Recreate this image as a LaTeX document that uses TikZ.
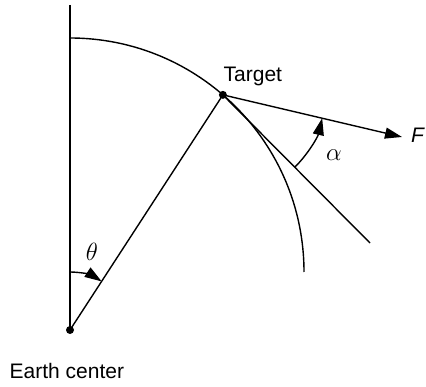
\documentclass[tikz,border=0pt]{standalone}
\usepackage{fontspec}
\setmainfont{Liberation Sans}
\usetikzlibrary{arrows.meta,calc}

\begin{document}
\begin{tikzpicture}[x=1pt,y=1pt,line width=1.4pt,
  font=\fontsize{21}{24}\selectfont,
  tip/.style={-{Triangle[length=17pt,width=11pt]}},
  lbl/.style={inner sep=0pt},
  sym/.style={inner sep=0pt,font=\fontsize{24}{28}\selectfont}]
\useasboundingbox (0,0) rectangle (426,386);

% ===== Earth axis and surface =====
\coordinate (top) at (70,381);
\coordinate (earth) at (70,56);
\coordinate (c) at (70,114);
\coordinate (pole) at (70,348);
\draw (top) -- (earth);
\draw (pole) arc[start angle=90,end angle=0,radius=234];
\fill (earth) circle (4);

% ===== Target, tangent and force =====
\coordinate (target) at ($(c)+(49.2:234)$);
\coordinate (tan) at (370,143);
\coordinate (ftip) at (402,249);
\draw (earth) -- (target);
\draw (target) -- (tan);
\draw[tip] (target) -- (ftip);
\fill (target) circle (4);

% Angles
\draw[tip] ($(earth)+(90:58)$) arc[start angle=90,end angle=56.9,radius=58];
\draw[tip] ($(target)+(-45.2:102)$) arc[start angle=-45.2,end angle=-13.2,radius=102];

% Labels
\node[sym] (theta) at (92,134) {$\theta$};
\node[sym] (alpha) at (334,231) {$\alpha$};
\node[lbl,anchor=base west] (tlabel) at (223,304) {Target};
\node[lbl,anchor=base west] (elabel) at (9,8) {Earth center};
\node[lbl] (flabel) at (418,251) {\textit{F}};
\end{tikzpicture}
\end{document}
